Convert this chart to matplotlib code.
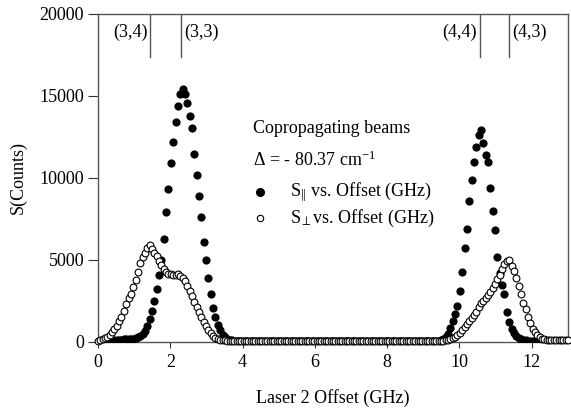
import matplotlib
matplotlib.use("Agg")
import matplotlib.pyplot as plt

plt.rcParams['font.family'] = ['Liberation Serif', 'DejaVu Serif']
plt.rcParams['mathtext.fontset'] = 'custom'
plt.rcParams['mathtext.rm'] = 'Liberation Serif'
plt.rcParams['mathtext.it'] = 'Liberation Serif:italic'

# Laser 2 offset (GHz)
offset = [
    0.0, 0.065, 0.13, 0.195, 0.26, 0.325, 0.39, 0.455, 0.52, 0.585,
    0.65, 0.715, 0.78, 0.845, 0.91, 0.975, 1.04, 1.105, 1.17, 1.235,
    1.3, 1.365, 1.43, 1.495, 1.56, 1.625, 1.69, 1.755, 1.82, 1.885,
    1.95, 2.015, 2.08, 2.145, 2.21, 2.275, 2.34, 2.405, 2.47, 2.535,
    2.6, 2.665, 2.73, 2.795, 2.86, 2.925, 2.99, 3.055, 3.12, 3.185,
    3.25, 3.315, 3.38, 3.445, 3.51, 3.575, 3.64, 3.705, 3.77, 3.835,
    3.9, 3.965, 4.03, 4.095, 4.16, 4.225, 4.29, 4.355, 4.42, 4.485,
    4.55, 4.615, 4.68, 4.745, 4.81, 4.875, 4.94, 5.005, 5.07, 5.135,
    5.2, 5.265, 5.33, 5.395, 5.46, 5.525, 5.59, 5.655, 5.72, 5.785,
    5.85, 5.915, 5.98, 6.045, 6.11, 6.175, 6.24, 6.305, 6.37, 6.435,
    6.5, 6.565, 6.63, 6.695, 6.76, 6.825, 6.89, 6.955, 7.02, 7.085,
    7.15, 7.215, 7.28, 7.345, 7.41, 7.475, 7.54, 7.605, 7.67, 7.735,
    7.8, 7.865, 7.93, 7.995, 8.06, 8.125, 8.19, 8.255, 8.32, 8.385,
    8.45, 8.515, 8.58, 8.645, 8.71, 8.775, 8.84, 8.905, 8.97, 9.035,
    9.1, 9.165, 9.23, 9.295, 9.36, 9.425, 9.49, 9.555, 9.62, 9.685,
    9.75, 9.815, 9.88, 9.945, 10.01, 10.075, 10.14, 10.205, 10.27, 10.335,
    10.4, 10.465, 10.53, 10.595, 10.66, 10.725, 10.79, 10.855, 10.92, 10.985,
    11.05, 11.115, 11.18, 11.245, 11.31, 11.375, 11.44, 11.505, 11.57, 11.635,
    11.7, 11.765, 11.83, 11.895, 11.96, 12.025, 12.09, 12.155, 12.22, 12.285,
    12.35, 12.415, 12.48, 12.545, 12.61, 12.675, 12.74, 12.805, 12.87, 12.935,
    13.0,
]

# S parallel (filled)
s_par = [
    20, 30, 30, 40, 50, 60, 80, 100, 120, 130,
    140, 150, 150, 160, 170, 190, 230, 290, 380, 500,
    680, 1000, 1400, 1900, 2500, 3200, 4100, 5000, 6300, 7900,
    9300, 10900, 12200, 13400, 14400, 15100, 15450, 15100, 14550, 13800,
    13050, 11450, 10200, 8900, 7600, 6100, 5000, 3900, 2900, 2100,
    1500, 1050, 700, 450, 300, 200, 140, 100, 80, 70,
    60, 60, 55, 60, 65, 60, 55, 60, 60, 65,
    60, 55, 60, 60, 65, 60, 60, 55, 60, 60,
    65, 60, 55, 60, 60, 60, 65, 60, 55, 60,
    60, 65, 60, 60, 55, 60, 60, 65, 60, 60,
    55, 60, 60, 65, 60, 60, 55, 60, 60, 65,
    60, 60, 55, 60, 60, 65, 60, 55, 60, 60,
    65, 60, 60, 55, 60, 60, 65, 60, 60, 55,
    60, 60, 65, 60, 60, 55, 60, 60, 65, 60,
    60, 55, 60, 60, 60, 80, 110, 180, 300, 500,
    850, 1250, 1700, 2200, 3100, 4250, 5750, 6900, 8600, 9850,
    11000, 11900, 12600, 12900, 12150, 11400, 10950, 9400, 8000, 6800,
    5200, 4200, 3500, 2900, 1800, 1200, 800, 550, 380, 270,
    190, 130, 100, 80, 70, 60, 60, 60, 60, 60,
    60, 60, 60, 60, 60, 60, 60, 60, 60, 60,
    60,
]

# S perpendicular (open)
s_perp = [
    80, 100, 150, 230, 330, 450, 600, 800, 1000, 1250,
    1550, 1900, 2300, 2650, 2950, 3350, 3750, 4250, 4800, 5200,
    5450, 5750, 5900, 5650, 5450, 5250, 4950, 4700, 4450, 4250,
    4150, 4150, 4100, 4100, 4150, 4050, 3900, 3700, 3420, 3100,
    2800, 2450, 2150, 1800, 1500, 1200, 950, 720, 520, 380,
    270, 190, 140, 110, 90, 80, 80, 80, 80, 80,
    80, 80, 75, 80, 85, 80, 80, 75, 80, 80,
    85, 80, 80, 75, 80, 80, 85, 80, 80, 75,
    80, 80, 85, 80, 80, 75, 80, 80, 85, 80,
    80, 75, 80, 80, 85, 80, 80, 75, 80, 80,
    85, 80, 80, 75, 80, 80, 85, 80, 80, 75,
    80, 80, 85, 80, 80, 75, 80, 80, 85, 80,
    80, 75, 80, 80, 85, 80, 80, 75, 80, 80,
    85, 80, 80, 75, 80, 80, 85, 80, 80, 75,
    80, 80, 85, 80, 80, 75, 80, 85, 100, 130,
    180, 250, 330, 430, 550, 700, 900, 1100, 1300, 1450,
    1650, 1850, 2150, 2350, 2500, 2650, 2850, 3050, 3300, 3550,
    3850, 4100, 4450, 4750, 4950, 5000, 4650, 4300, 3900, 3400,
    2900, 2400, 2000, 1550, 1150, 820, 580, 400, 280, 200,
    150, 120, 100, 100, 100, 100, 100, 100, 100, 100,
    100,
]

# Transition markers
trans_x = [1.45, 2.31, 10.56, 11.38]
trans_labels = ["(3,4)", "(3,3)", "(4,4)", "(4,3)"]
trans_side = ["left", "right", "left", "right"]

FS = 13

fig = plt.figure(figsize=(5.71, 4.11), dpi=100)
ax = fig.add_axes([0.1716, 0.168, 0.823, 0.798])

ax.plot(offset, s_par, linestyle='none', marker='o', markersize=4.9,
        color='black', markeredgecolor='black', zorder=3)
ax.plot(offset, s_perp, linestyle='none', marker='o', markersize=4.9,
        markerfacecolor='white', markeredgecolor='black',
        markeredgewidth=0.8, zorder=4, clip_on=False)

ax.set_xlim(0, 13)
ax.set_ylim(0, 20000)
ax.set_xticks([0, 2, 4, 6, 8, 10, 12])
ax.set_yticks([0, 5000, 10000, 15000, 20000])
ax.tick_params(direction='out', width=0.8, labelsize=FS,
               colors='#333333', labelcolor='black', top=False, right=False)
ax.tick_params(axis='y', length=7, pad=3)
ax.tick_params(axis='x', length=4, pad=5)
for sp in ax.spines.values():
    sp.set_color('#555555')
    sp.set_linewidth(1.0)

ax.set_xlabel("Laser 2 Offset (GHz)", fontsize=FS, labelpad=13)
ax.set_ylabel("S(Counts)", fontsize=FS, labelpad=9)

for xv, lab, side in zip(trans_x, trans_labels, trans_side):
    ax.plot([xv, xv], [17400, 20000], color='#555555', lw=1.0)
    if side == 'left':
        ax.text(xv - 0.08, 18900, lab, ha='right', va='center', fontsize=FS)
    else:
        ax.text(xv + 0.08, 18900, lab, ha='left', va='center', fontsize=FS)

ax.text(4.28, 13000, "Copropagating beams", fontsize=FS, va='center')
ax.text(4.28, 11100, r"$\Delta$ = - 80.37 cm$^{-1}$", fontsize=FS, va='center')
ax.plot([4.47], [9150], linestyle='none', marker='o', markersize=5.5, color='black')
ax.plot([4.47], [7560], linestyle='none', marker='o', markersize=4.6,
        markerfacecolor='white', markeredgecolor='black', markeredgewidth=0.8)
ax.text(5.3, 9150, r"S$_{||}$ vs. Offset (GHz)", fontsize=FS, va='center')
ax.text(5.3, 7560, r"S$_{\perp}$vs. Offset (GHz)", fontsize=FS, va='center')

fig.savefig("out.png", dpi=100)
